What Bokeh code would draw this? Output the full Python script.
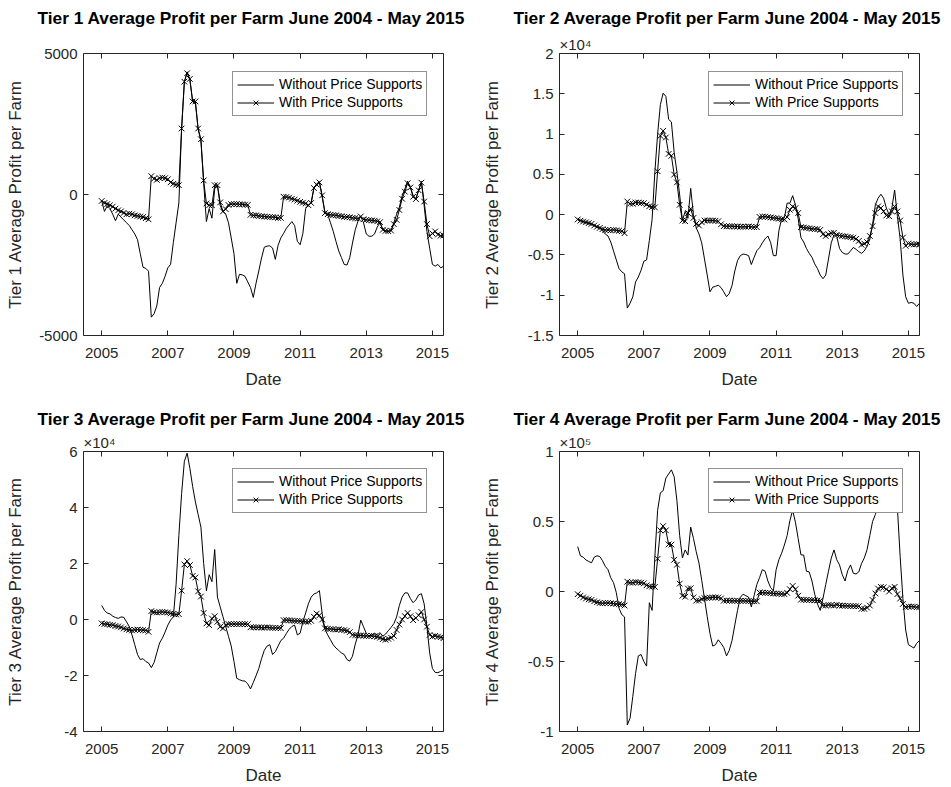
import numpy as np
from bokeh.plotting import figure
from bokeh.layouts import column, row
from bokeh.models import Range1d, FixedTicker, LinearAxis, Legend, LegendItem, Title
from bokeh.embed import file_html
from bokeh.resources import INLINE

# ---- time axis: monthly observations, Jan 2005 through May 2015 ----
n_months = 125
dates = 2005 + np.arange(n_months) / 12.0

year_ticks = [2005, 2007, 2009, 2011, 2013, 2015]
year_tick_labels = ["2005", "2007", "2009", "2011", "2013", "2015"]

tier1_ticks = [-5000, 0, 5000]
tier1_tick_labels = ["-5000", "0", "5000"]
tier2_ticks = [-15000, -10000, -5000, 0, 5000, 10000, 15000, 20000]
tier2_tick_labels = ["-1.5", "-1", "-0.5", "0", "0.5", "1", "1.5", "2"]
tier3_ticks = [-40000, -20000, 0, 20000, 40000, 60000]
tier3_tick_labels = ["-4", "-2", "0", "2", "4", "6"]
tier4_ticks = [-100000, -50000, 0, 50000, 100000]
tier4_tick_labels = ["-1", "-0.5", "0", "0.5", "1"]

series_labels = ["Without Price Supports", "With Price Supports"]

# ---- average profit per farm (dollars), one value per month ----
tier1_without = [
    -230, -600, -400, -500, -700, -930, -700, -800, -900, -1000,
    -1100, -1250, -1400, -1600, -2100, -2580, -2620, -2720, -4350, -4230,
    -3950, -3300, -3150, -2900, -2600, -2480, -1700, -1000, -300, 2340,
    4000, 4350, 4050, 3300, 3250, 2300, 1900, 400, -960, -500,
    -840, 200, 330, -400, -600, -700, -1000, -1540, -2100, -3150,
    -2830, -2850, -2900, -3100, -3300, -3650, -3150, -2710, -2250, -1870,
    -1830, -1820, -1900, -2300, -1800, -1540, -1380, -1200, -1080, -960,
    -1100, -1660, -1780, -1380, -500, -380, -300, 230, 380, 450,
    -100, -620, -700, -1000, -1300, -1660, -2000, -2240, -2480, -2500,
    -2240, -1720, -1250, -950, -780, -1000, -1400, -1480, -1480, -1400,
    -1150, -1000, -1250, -1300, -1300, -1280, -1000, -700, -450, -50,
    200, 470, 250, -30, -150, 150, 470, -400, -1310, -1900,
    -2480, -2540, -2480, -2600, -2550,
]
tier1_with = [
    -230, -300, -340, -380, -430, -500, -560, -600, -650, -700,
    -680, -700, -740, -760, -780, -800, -840, -880, 650, 560,
    520, 580, 600, 580, 540, 430, 380, 350, 330, 2340,
    4000, 4300, 4100, 3300, 3300, 2340, 1960, 500, -320, -380,
    -380, 330, 330, -280, -600, -520, -370, -340, -340, -340,
    -350, -350, -360, -370, -720, -740, -740, -760, -770, -780,
    -790, -800, -800, -810, -830, -830, -80, -90, -110, -150,
    -180, -220, -260, -290, -320, -380, -300, 230, 350, 430,
    -30, -660, -700, -720, -730, -740, -760, -770, -790, -800,
    -810, -830, -840, -850, -780, -880, -900, -910, -920, -930,
    -950, -980, -1250, -1290, -1300, -1280, -1050, -900, -550, -150,
    100, 400, 250, -80, -160, 150, 420, -250, -1050, -1480,
    -1380, -1310, -1420, -1460, -1450,
]
tier2_without = [
    -600, -700, -900, -1000, -1100, -1200, -1350, -1500, -1630, -2000,
    -2400, -2650, -3400, -4500, -5600, -6700, -7100, -7340, -11600, -11000,
    -10200, -8350, -7740, -6900, -5790, -5620, -3200, -600, 5300, 9980,
    13650, 15080, 14670, 11820, 11500, 7740, 5300, 2450, -730, 400,
    -410, 3260, 0, -1630, -2400, -3500, -5500, -7500, -9580, -9000,
    -8900, -8760, -9050, -9580, -10190, -9780, -8800, -7000, -5700, -5090,
    -4890, -4950, -5090, -6190, -5300, -4480, -4100, -3500, -3000, -2650,
    -3460, -5090, -5090, -2000, -500, -400, 1430, 1430, 2360, 1220,
    -500, -2850, -3400, -4200, -4800, -5300, -6110, -6700, -7500, -7950,
    -7500, -5500, -3500, -2500, -2700, -4200, -4700, -4890, -4890, -4500,
    -4075, -4300, -4600, -4800, -4500, -3900, -3050, -1220, 1220, 2040,
    2530, 2040, 815, 0, 815, 3060, -200, -3000, -7500, -10200,
    -11000, -10900, -11000, -11400, -11000,
]
tier2_with = [
    -600, -750, -850, -950, -1050, -1150, -1350, -1500, -1650, -1800,
    -1900, -1900, -1950, -1900, -1950, -2000, -2050, -2300, 1630, 1350,
    1350, 1500, 1500, 1450, 1430, 1250, 1050, 950, 900, 5380,
    9780, 10400, 9580, 7540, 7300, 4970, 4000, 1220, -730, -815,
    200, 730, -410, -1140, -1345, -940, -730, -730, -730, -730,
    -760, -815, -1200, -1430, -1450, -1450, -1450, -1470, -1470, -1500,
    -1500, -1500, -1470, -1500, -1550, -1550, -285, -250, -250, -300,
    -350, -400, -450, -500, -550, -610, -300, 600, 1000, 800,
    200, -1550, -1600, -1650, -1700, -1750, -1800, -1800, -1900, -2440,
    -2650, -2450, -2300, -2240, -2500, -2600, -2650, -2700, -2750, -2800,
    -2850, -3000, -3260, -3750, -3600, -3400, -2650, -1430, 200, 1020,
    815, 410, -100, -200, 400, 1020, 400, -730, -2850, -3870,
    -3590, -3670, -3700, -3670, -3700,
]
tier3_without = [
    5000, 3300, 2300, 2000, 1200, 700, 400, 900, 800, -800,
    -2500, -5500, -9000, -12500, -14300, -14000, -15000, -15500, -17200, -15400,
    -11900, -8400, -6700, -4500, -2000, -200, 900, 12600, 30000, 45000,
    56500, 59400, 54000, 47500, 42000, 37500, 33000, 20000, 10300, 16000,
    13500, 25000, 8000, 4500, 1000, -2500, -6000, -9500, -15000, -21000,
    -21500, -21900, -22000, -23000, -24800, -22500, -20100, -17500, -14000, -11000,
    -9500, -9000, -12500, -11500, -9500, -7500, -6700, -5000, -3500, -2500,
    -2000, -5500, -4900, -800, 2300, 5600, 8000, 9100, 9500, 10300,
    2000, -3500, -5500, -7250, -9000, -10200, -11000, -12000, -12500, -14300,
    -14860, -13100, -8800, -5500, -230, -2570, -5000, -6000, -5500, -4900,
    -5500, -4700, -6000, -5200, -4000, -2800, -1500, 900, 5000, 8000,
    9500, 9500, 7500, 6000, 7000, 8800, 9200, 5600, -2500, -11900,
    -17500, -18900, -19000, -18500, -17800,
]
tier3_with = [
    -1400, -1600, -1700, -1900, -2000, -2300, -2500, -2800, -3200, -3500,
    -3700, -3900, -3700, -3600, -3700, -3800, -3900, -4400, 3000, 2600,
    2500, 2600, 2700, 2600, 2500, 2200, 2000, 1800, 1900, 10300,
    19660, 20830, 19420, 15560, 15000, 10060, 8190, 2340, -1400, -2000,
    350, 1170, -820, -2570, -3160, -2000, -1640, -1640, -1640, -1640,
    -1640, -1640, -1640, -1700, -2800, -2800, -2800, -2800, -2900, -2900,
    -2800, -2900, -3000, -3000, -3000, -3100, -230, -230, -300, -400,
    -500, -500, -600, -700, -800, -800, -500, 1000, 2100, 1500,
    0, -3160, -3300, -3400, -3500, -3600, -3500, -3700, -3800, -4000,
    -4500, -5500, -5600, -5700, -5700, -5800, -5850, -5900, -5850, -6000,
    -6200, -6500, -7000, -7250, -6900, -6500, -5850, -3740, -1800, 0,
    1200, 2340, 1170, -230, 500, 1520, 2690, 0, -2570, -5500,
    -6080, -5850, -6100, -6320, -6670,
]
tier4_without = [
    32000, 25500, 24500, 22500, 21500, 20500, 24500, 25500, 25000, 22000,
    18000, 15600, 9800, 6300, -700, -12000, -16500, -18200, -95300, -90500,
    -75000, -58500, -46000, -45000, -50000, -53300, -8000, -13500, 25000, 58000,
    70500, 72000, 81000, 84000, 86900, 82000, 65000, 40000, 24000, 29700,
    26000, 46000, 38000, 28500, 20300, 8000, -5000, -18000, -30000, -39000,
    -38000, -34500, -37000, -40000, -46000, -42000, -35000, -24000, -13500, -4200,
    -1900, -3000, -4000, -11000, -3000, 5000, 10000, 15600, 14500, 7500,
    2800, 500, 15600, 22700, 27300, 33200, 40000, 50700, 58000, 49500,
    37800, 26200, 26000, 14500, 14000, 7500, -1900, -8900, -13500, -5000,
    5000, 14500, 23800, 29700, 22700, 19000, 12000, 7500, 15000, 19000,
    13000, 12500, 14000, 20000, 24000, 30000, 40000, 50000, 55000, 61000,
    65000, 64000, 62000, 56500, 63000, 66000, 60000, 25000, -5000, -27500,
    -38000, -39200, -40400, -37000, -35000,
]
tier4_with = [
    -1900, -3000, -4200, -5000, -5600, -6000, -7000, -7700, -8200, -8400,
    -8200, -8200, -8400, -8600, -8900, -9000, -9300, -10000, 7000, 6300,
    6300, 6800, 6500, 6300, 5840, 4440, 3700, 3500, 3270, 23360,
    43680, 46720, 43680, 33640, 33500, 22660, 19150, 5600, -3040, -3740,
    2100, 2340, -4200, -6540, -6500, -5370, -4700, -4670, -4400, -4200,
    -4200, -4300, -4900, -6540, -6500, -6500, -6600, -6600, -6700, -6700,
    -6600, -6700, -6800, -6800, -7000, -7000, -700, -800, -900, -1000,
    -1200, -1400, -1500, -1600, -1800, -1870, -1000, 1640, 3970, 1600,
    -3000, -5840, -5900, -6000, -6100, -6200, -6300, -6400, -6540, -10040,
    -10000, -9600, -9800, -10000, -9500, -10000, -10100, -10200, -10300, -10400,
    -10400, -10500, -10500, -12380, -12400, -11500, -10040, -6070, -1400, 2100,
    3270, 3000, 1640, 0, 2340, 3270, -1870, -5000, -8880, -11210,
    -10750, -10750, -10900, -11210, -11000,
]

# ---- styling ----
FONT = "Liberation Sans"
INK = "#262626"
X_START, X_END = 2004.45, 2015.335
FRAME_W = 360
LEGEND_W, LEGEND_H = 195, 43


def style_axis(ax, show_labels=True):
    ax.axis_line_color = INK
    ax.axis_line_width = 1
    ax.major_tick_line_color = INK
    ax.major_tick_line_width = 1
    ax.major_tick_in = 5
    ax.major_tick_out = 0
    ax.minor_tick_line_color = None
    ax.major_label_text_font = FONT
    ax.major_label_text_font_size = "15px"
    ax.major_label_text_color = INK if show_labels else None


def make_panel(tier, without, with_ps, yticks, ytick_labels, exponent,
               ylabel_standoff, width, height, border_top, frame_h,
               title_standoff):
    border_left = 83
    border_right = width - border_left - FRAME_W
    border_bottom = height - border_top - frame_h
    p = figure(width=width, height=height, output_backend="svg",
               toolbar_location=None,
               x_range=Range1d(X_START, X_END),
               y_range=Range1d(yticks[0], yticks[-1]),
               min_border_left=border_left, min_border_right=border_right,
               min_border_top=border_top, min_border_bottom=border_bottom,
               background_fill_color="white", border_fill_color="white")
    p.outline_line_color = None
    p.xgrid.visible = False
    p.ygrid.visible = False

    r_without = p.line(dates, without, line_color="black", line_width=1)
    r_with = p.line(dates, with_ps, line_color="black", line_width=1)
    r_marks = p.scatter(dates, with_ps, marker="x", size=8,
                        line_color="black", line_width=1)

    # bottom axis
    xa = p.xaxis[0]
    xa.ticker = FixedTicker(ticks=year_ticks)
    xa.major_label_overrides = dict(zip(year_ticks, year_tick_labels))
    style_axis(xa)
    xa.major_label_standoff = 12
    xa.axis_label = "Date"
    xa.axis_label_text_font = FONT
    xa.axis_label_text_font_size = "17px"
    xa.axis_label_text_font_style = "normal"
    xa.axis_label_text_color = INK
    xa.axis_label_standoff = 9

    # left axis
    ya = p.yaxis[0]
    ya.ticker = FixedTicker(ticks=yticks)
    ya.major_label_overrides = dict(zip(yticks, ytick_labels))
    style_axis(ya)
    ya.major_label_standoff = 6
    ya.axis_label = f"Tier {tier} Average Profit per Farm"
    ya.axis_label_text_font = FONT
    ya.axis_label_text_font_size = "17px"
    ya.axis_label_text_font_style = "normal"
    ya.axis_label_text_color = INK
    ya.axis_label_standoff = ylabel_standoff

    # closed box: inward tick marks on the top and right edges too
    top = LinearAxis(ticker=FixedTicker(ticks=year_ticks))
    style_axis(top, show_labels=False)
    top.major_label_standoff = 0
    p.add_layout(top, "above")
    right = LinearAxis(ticker=FixedTicker(ticks=yticks))
    style_axis(right, show_labels=False)
    right.major_label_standoff = 0
    p.add_layout(right, "right")

    # axis multiplier line just above the top-left corner (blank for tier 1,
    # so all four titles sit at the same height)
    p.add_layout(Title(text=("\u00d710" + exponent) if exponent else " ",
                       align="left", offset=0, standoff=2,
                       text_font=FONT, text_font_size="15px",
                       text_font_style="normal", text_color=INK), "above")
    p.add_layout(Title(text=f"Tier {tier} Average Profit per Farm June 2004 - May 2015",
                       align="left", offset=-46, standoff=title_standoff,
                       text_font=FONT, text_font_size="17.3px",
                       text_font_style="bold", text_color="black"), "above")

    legend = Legend(
        items=[LegendItem(label=series_labels[0], renderers=[r_without]),
               LegendItem(label=series_labels[1], renderers=[r_with, r_marks])],
        location=(FRAME_W - 16 - LEGEND_W, frame_h - 16.5 - 46 - 3),
        margin=0, padding=4, spacing=1,
        glyph_width=37, glyph_height=17, label_height=17, label_standoff=5,
        label_text_font=FONT, label_text_font_size="14px",
        label_text_color="black",
        border_line_color=INK, border_line_width=1,
        background_fill_color="white", background_fill_alpha=1.0)
    p.add_layout(legend)
    return p


p1 = make_panel(1, tier1_without, tier1_with, tier1_ticks, tier1_tick_labels,
                None, 11, 476, 391, 52, 285, 10)
p2 = make_panel(2, tier2_without, tier2_with, tier2_ticks, tier2_tick_labels,
                "\u2074", 23, 475, 391, 52, 285, 10)
p3 = make_panel(3, tier3_without, tier3_with, tier3_ticks, tier3_tick_labels,
                "\u2074", 36, 476, 396, 60, 284, 4)
p4 = make_panel(4, tier4_without, tier4_with, tier4_ticks, tier4_tick_labels,
                "\u2075", 23, 475, 396, 60, 284, 4)

layout = column(row(p1, p2), row(p3, p4))
open("out.html", "w").write(file_html(layout, INLINE, title="Average Profit per Farm"))
